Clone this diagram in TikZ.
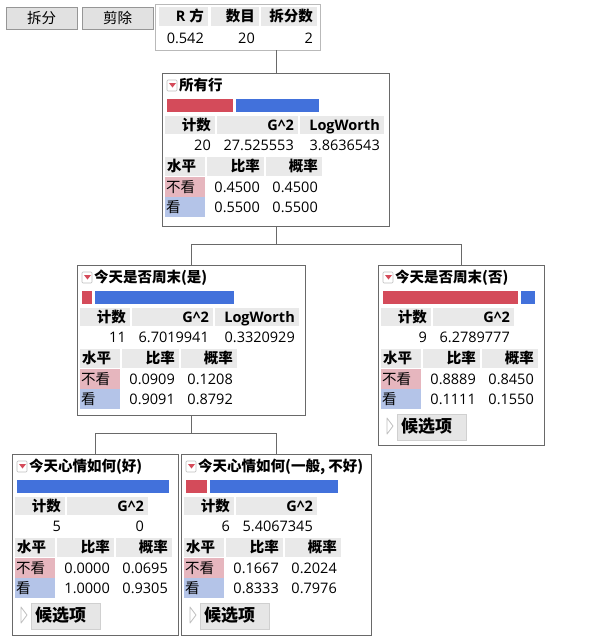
\documentclass[tikz,border=0pt]{standalone}
\usepackage{fontspec}
\setmainfont{Open Sans}
\newfontfamily\cjk{Noto Sans CJK SC}
\usepackage{tikz}
\usetikzlibrary{positioning, calc}

\definecolor{jmpred}{RGB}{212, 75, 90}
\definecolor{jmpblue}{RGB}{66, 113, 219}
\definecolor{jmppink}{RGB}{230, 182, 190}
\definecolor{jmplblue}{RGB}{180, 196, 232}
\definecolor{jmphdr}{RGB}{233, 233, 233}
\definecolor{jmpline}{RGB}{105, 105, 105}
\definecolor{jmpsum}{RGB}{185, 185, 185}
\definecolor{jmpicon}{RGB}{190, 190, 190}
\definecolor{jmpbtn}{RGB}{225, 225, 225}
\definecolor{jmpbtnedge}{RGB}{150, 150, 150}
\definecolor{jmpcand}{RGB}{230, 230, 230}
\definecolor{jmpcandedge}{RGB}{208, 208, 208}

\newcommand{\tblfont}{\fontsize{14.5pt}{17pt}\selectfont}
\newcommand{\candfont}{\fontsize{17pt}{20pt}\selectfont}

% grey header cell, text set flush right
\newcommand{\hcell}[6]{%
  \fill[jmphdr] (#2,#3) rectangle (#4,#5);
  \node[txt, font=\tblfont\bfseries, anchor=east] (#1) at ({#4-4},{(#3+#5)/2}) {#6};}

% icon, title and the red/blue bar of a tree node
\newcommand{\nodehead}[3]{%
  \draw[icon] (5,7) rectangle (15,18);
  \fill[jmpred] (7,10) -- (14,10) -- (10.5,14.5) -- cycle;
  \node[txt, font=\tblfont\bfseries, anchor=west] (#1-title) at (17,12.5) {\cjk #3};
  \ifnum#2>0
    \fill[jmpred] (5,26) rectangle ({5+#2},39);
    \fill[jmpblue] ({8+#2},26) rectangle (157,39);
  \else
    \fill[jmpblue] (5,26) rectangle (157,39);
  \fi}

% count, G^2 and LogWorth
\newcommand{\nodestats}[4]{%
  \hcell{#1-hc}{3}{43}{53}{61}{\cjk 计数}
  \hcell{#1-hg}{55}{43}{136}{61}{G\textasciicircum 2}
  \node[txt, anchor=east] (#1-vc) at (49,72) {#2};
  \node[txt, anchor=east] (#1-vg) at (132,72) {#3};
  \ifx\relax#4\relax\else
    \hcell{#1-hl}{138}{43}{222}{61}{LogWorth}
    \node[txt, anchor=east] (#1-vl) at (218,72) {#4};
  \fi}

% levels with rate and probability
\newcommand{\nodelevels}[5]{%
  \fill[jmphdr] (3,84) rectangle (43,103);
  \node[txt, font=\tblfont\bfseries, anchor=west] (#1-hv) at (5,93.5) {\cjk 水平};
  \hcell{#1-hr}{45}{84}{102}{103}{\cjk 比率}
  \hcell{#1-hp}{104}{84}{160}{103}{\cjk 概率}
  \fill[jmppink] (3,104) rectangle (43,124);
  \fill[jmplblue] (3,124) rectangle (43,144);
  \node[txt, anchor=west] (#1-l1) at (4,114) {\cjk 不看};
  \node[txt, anchor=west] (#1-l2) at (4,134) {\cjk 看};
  \node[txt, anchor=east] (#1-r1) at (98,114) {#2};
  \node[txt, anchor=east] (#1-p1) at (156,114) {#3};
  \node[txt, anchor=east] (#1-r2) at (98,134) {#4};
  \node[txt, anchor=east] (#1-p2) at (156,134) {#5};}

% candidates button of a leaf
\newcommand{\candbtn}[1]{%
  \draw[jmpicon, line width=0.8pt, line join=round] (9,153) -- (15,161) -- (9,169) -- cycle;
  \draw[draw=jmpcandedge, fill=jmpcand] (19,149) rectangle (88,175);
  \node[txt, font=\candfont\bfseries, anchor=west] (#1-cand) at (23,162) {\cjk 候选项};}

\begin{document}
\begin{tikzpicture}[x=1pt, y=-1pt,
    treebox/.style={draw=jmpline, line width=0.9pt, fill=white, inner sep=0pt, anchor=north west},
    conn/.style={draw=jmpline, line width=0.9pt},
    topbtn/.style={draw=jmpbtnedge, fill=jmpbtn, inner sep=0pt, anchor=north west,
                   minimum width=71pt, minimum height=22pt, font=\tblfont\cjk},
    txt/.style={inner sep=0pt, text height=11pt, text depth=1pt, font=\tblfont},
    icon/.style={draw=jmpicon, fill=white, line width=0.6pt, rounded corners=1pt}
  ]
  \fill[white] (0,0) rectangle (594,638);
  \useasboundingbox (0,0) rectangle (594,638);

  % buttons and summary
  \node[topbtn] (split) at (6,7) {拆分};
  \node[topbtn] (prune) at (82,7) {剪除};
  \node[draw=jmpsum, fill=white, inner sep=0pt, anchor=north west,
        minimum width=165pt, minimum height=46pt] (summary) at (155,4) {};
  \hcell{sum-hr}{159}{7}{208}{26}{R \cjk 方}
  \hcell{sum-hn}{211}{7}{259}{26}{\cjk 数目}
  \hcell{sum-hs}{261}{7}{317}{26}{\cjk 拆分数}
  \node[txt, anchor=east] (sum-vr) at (204,38) {0.542};
  \node[txt, anchor=east] (sum-vn) at (255,38) {20};
  \node[txt, anchor=east] (sum-vs) at (313,38) {2};

  % tree boxes
  \node[treebox, minimum width=227pt, minimum height=153pt] (root) at (162,73) {};
  \node[treebox, minimum width=228pt, minimum height=150pt] (wkyes) at (77,265) {};
  \node[treebox, minimum width=166pt, minimum height=180pt] (wkno) at (378,265) {};
  \node[treebox, minimum width=166pt, minimum height=181pt] (mdgood) at (12,454) {};
  \node[treebox, minimum width=190pt, minimum height=181pt] (mdbad) at (181,454) {};

  \draw[conn] (root.north) -- (root.north |- summary.south);
  \draw[conn] (root.south) -- ++(0,18) -| (wkyes.north);
  \draw[conn] (root.south) -- ++(0,18) -| (wkno.north);
  \draw[conn] (wkyes.south) -- ++(0,18) -| (mdgood.north);
  \draw[conn] (wkyes.south) -- ++(0,18) -| (mdbad.north);

  \begin{scope}[shift={(root.north west)}]
    \nodehead{root}{66}{所有行}
    \nodestats{root}{20}{27.525553}{3.8636543}
    \nodelevels{root}{0.4500}{0.4500}{0.5500}{0.5500}
  \end{scope}
  \begin{scope}[shift={(wkyes.north west)}]
    \nodehead{wkyes}{10}{今天是否周末(是)}
    \nodestats{wkyes}{11}{6.7019941}{0.3320929}
    \nodelevels{wkyes}{0.0909}{0.1208}{0.9091}{0.8792}
  \end{scope}
  \begin{scope}[shift={(wkno.north west)}]
    \nodehead{wkno}{135}{今天是否周末(否)}
    \nodestats{wkno}{9}{6.2789777}{}
    \nodelevels{wkno}{0.8889}{0.8450}{0.1111}{0.1550}
    \candbtn{wkno}
  \end{scope}
  \begin{scope}[shift={(mdgood.north west)}]
    \nodehead{mdgood}{0}{今天心情如何(好)}
    \nodestats{mdgood}{5}{0}{}
    \nodelevels{mdgood}{0.0000}{0.0695}{1.0000}{0.9305}
    \candbtn{mdgood}
  \end{scope}
  \begin{scope}[shift={(mdbad.north west)}]
    \nodehead{mdbad}{21}{今天心情如何(一般, 不好)}
    \nodestats{mdbad}{6}{5.4067345}{}
    \nodelevels{mdbad}{0.1667}{0.2024}{0.8333}{0.7976}
    \candbtn{mdbad}
  \end{scope}
\end{tikzpicture}
\end{document}
